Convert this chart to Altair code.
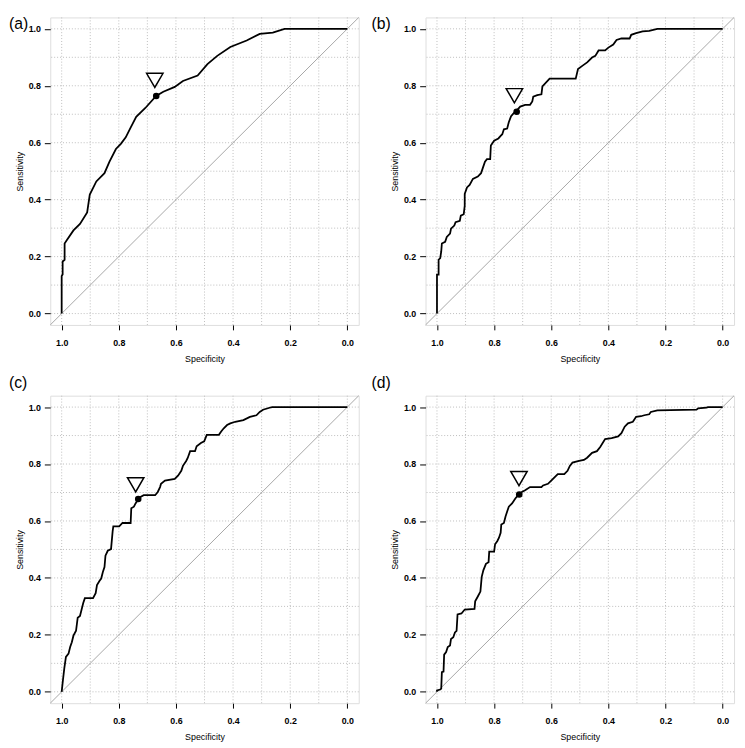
import altair as alt
import pandas as pd

# ---------------- data ----------------
spec_a = [1.0, 1.0, 0.9966, 0.9966, 0.9897, 0.9897, 0.9817, 0.9588, 0.9359, 0.9108, 0.9016,
          0.8787, 0.8501, 0.833, 0.8101, 0.7929, 0.7757, 0.7586, 0.7391, 0.7071, 0.6693,
          0.6442, 0.6041, 0.5755, 0.524, 0.4897, 0.4554, 0.4096, 0.3524, 0.3066, 0.2609,
          0.2197, 0.0]
sens_a = [0.0, 0.132, 0.137, 0.183, 0.189, 0.246, 0.258, 0.292, 0.315, 0.355, 0.418,
          0.464, 0.493, 0.533, 0.578, 0.596, 0.619, 0.653, 0.691, 0.722, 0.764,
          0.779, 0.796, 0.817, 0.836, 0.876, 0.905, 0.936, 0.959, 0.982, 0.987,
          1.0, 1.0]

spec_b = [1.0, 1.0, 0.9943, 0.9943, 0.9886, 0.9851, 0.9829, 0.9714, 0.9657, 0.9543, 0.9509,
          0.9394, 0.9349, 0.92, 0.9166, 0.9063, 0.9029, 0.9029, 0.8949, 0.8857, 0.8743,
          0.8571, 0.8457, 0.84, 0.832, 0.8251, 0.8137, 0.8114, 0.8, 0.7851, 0.7771, 0.7714,
          0.7657, 0.7543, 0.7486, 0.7406, 0.7314, 0.7234, 0.7086, 0.6914, 0.6743, 0.6663,
          0.6629, 0.6491, 0.6343, 0.6309, 0.6057, 0.5143, 0.5063, 0.4914, 0.4743, 0.4571,
          0.4457, 0.4343, 0.4114, 0.4, 0.3829, 0.3714, 0.3543, 0.3257, 0.32, 0.3029, 0.28,
          0.2571, 0.2286, 0.0]
sens_b = [0.0, 0.137, 0.137, 0.189, 0.195, 0.218, 0.246, 0.252, 0.269, 0.281, 0.298,
          0.309, 0.321, 0.326, 0.344, 0.349, 0.378, 0.42, 0.443, 0.452, 0.473,
          0.481, 0.493, 0.51, 0.533, 0.542, 0.542, 0.59, 0.607, 0.615, 0.624, 0.63,
          0.647, 0.65, 0.672, 0.693, 0.704, 0.71, 0.727, 0.733, 0.733, 0.745,
          0.762, 0.767, 0.77, 0.798, 0.825, 0.825, 0.859, 0.87, 0.882, 0.899,
          0.905, 0.924, 0.924, 0.934, 0.945, 0.961, 0.966, 0.966, 0.979, 0.985, 0.991,
          0.993, 1.0, 1.0]

spec_c = [1.0, 0.9954, 0.9908, 0.9851, 0.976, 0.9703, 0.9645, 0.9588, 0.9497, 0.9439, 0.9359,
          0.9302, 0.9245, 0.9188, 0.8902, 0.881, 0.8764, 0.8673, 0.8616, 0.8558, 0.8501,
          0.8467, 0.8387, 0.8272, 0.8215, 0.8192, 0.7986, 0.7872, 0.7586, 0.7563, 0.7471,
          0.7414, 0.7323, 0.7243, 0.7128, 0.6728, 0.6636, 0.6556, 0.6522, 0.6384, 0.6041,
          0.5927, 0.5812, 0.5755, 0.5641, 0.5584, 0.5503, 0.5332, 0.5275, 0.5126, 0.5011,
          0.492, 0.4497, 0.4416, 0.4325, 0.421, 0.4096, 0.3924, 0.3638, 0.341, 0.3181,
          0.3066, 0.2952, 0.2723, 0.2632, 0.0]
sens_c = [0.0, 0.0424, 0.0826, 0.1227, 0.1342, 0.1571, 0.1743, 0.1972, 0.2144, 0.2603, 0.2661,
          0.289, 0.3119, 0.3291, 0.3291, 0.3463, 0.375, 0.3899, 0.3979, 0.4209, 0.4381,
          0.4782, 0.4954, 0.5011, 0.5642, 0.5814, 0.5814, 0.5929, 0.5929, 0.6445, 0.6502,
          0.6617, 0.6755, 0.6846, 0.6904, 0.6904, 0.7018, 0.719, 0.7305, 0.742, 0.7477,
          0.7592, 0.7764, 0.7936, 0.8108, 0.8222, 0.8452, 0.8452, 0.8624, 0.8739, 0.8796,
          0.9025, 0.9025, 0.914, 0.9255, 0.9369, 0.9427, 0.9484, 0.9541, 0.9656, 0.9713,
          0.9828, 0.9908, 0.9977, 1.0, 1.0]

spec_d = [1.0, 1.0, 0.9886, 0.9851, 0.9829, 0.9771, 0.9749, 0.968, 0.9623, 0.9543, 0.9509,
          0.9429, 0.9371, 0.9314, 0.928, 0.9143, 0.9029, 0.8686, 0.8663, 0.8571, 0.848,
          0.8434, 0.8377, 0.8286, 0.8194, 0.8171, 0.8, 0.7966, 0.7886, 0.7829, 0.7771,
          0.7749, 0.7657, 0.76, 0.7543, 0.7486, 0.7371, 0.7257, 0.7143, 0.7029, 0.6914,
          0.6743, 0.6343, 0.6286, 0.6114, 0.6, 0.5886, 0.5771, 0.5543, 0.5429, 0.5349,
          0.5257, 0.5029, 0.4857, 0.4743, 0.4571, 0.44, 0.4286, 0.4114, 0.3886, 0.3657,
          0.3543, 0.3429, 0.3314, 0.3143, 0.3029, 0.2857, 0.2743, 0.2571, 0.2514, 0.2286,
          0.0914, 0.0857, 0.0571, 0.0514, 0.0]
sens_d = [0.0, 0.0046, 0.008, 0.0115, 0.0688, 0.0711, 0.1307, 0.1399, 0.1571, 0.1628, 0.1858,
          0.1915, 0.2087, 0.2144, 0.2718, 0.2752, 0.289, 0.2913, 0.3177, 0.3349, 0.3521,
          0.4037, 0.4266, 0.4495, 0.4553, 0.492, 0.492, 0.5183, 0.5298, 0.5413, 0.5585,
          0.5872, 0.5929, 0.6158, 0.633, 0.6502, 0.6617, 0.6789, 0.6927, 0.7018, 0.7076,
          0.719, 0.719, 0.7248, 0.7305, 0.742, 0.7534, 0.7649, 0.7649, 0.7764, 0.7936,
          0.805, 0.8108, 0.8142, 0.8222, 0.8394, 0.8452, 0.8601, 0.8876, 0.8911, 0.8968,
          0.9083, 0.9312, 0.9427, 0.9484, 0.9656, 0.9679, 0.9713, 0.9748, 0.9828, 0.9885,
          0.9908, 0.9954, 0.9977, 1.0, 1.0]

# best-threshold points (specificity, sensitivity) and marker triangles above them
best_spec = [0.669, 0.721, 0.732, 0.712]
best_sens = [0.764, 0.709, 0.677, 0.693]
tri_spec = [0.674, 0.729, 0.741, 0.713]
tri_sens = [0.819, 0.765, 0.727, 0.749]

panel_labels = ["(a)", "(b)", "(c)", "(d)"]
tick_values = [0.0, 0.2, 0.4, 0.6, 0.8, 1.0]
grid_values = [0.0, 0.1, 0.2, 0.3, 0.4, 0.5, 0.6, 0.7, 0.8, 0.9, 1.0]
diag_x = [1.04, -0.04]

FONT = "Liberation Sans"
W, H = 314, 313

xscale = alt.Scale(domain=[1.04, -0.04], nice=False, zero=False)
yscale = alt.Scale(domain=[-0.04, 1.04], nice=False, zero=False)
xaxis = alt.Axis(values=tick_values, format=".1f", title="Specificity", grid=False, domain=False,
                 tickSize=5, tickColor="black", tickWidth=1, labelPadding=9, labelFontSize=9,
                 labelFontWeight="bold", labelColor="black", labelFlush=False, labelOverlap=False,
                 titleFontSize=9, titleFontWeight="normal", titleColor="black", titlePadding=7,
                 labelFont=FONT, titleFont=FONT)
yaxis = alt.Axis(values=tick_values, format=".1f", title="Sensitivity", grid=False, domain=False,
                 tickSize=6, tickColor="black", tickWidth=1, labelPadding=4, labelFontSize=9,
                 labelFontWeight="bold", labelColor="black", labelFlush=False, labelOverlap=False,
                 titleFontSize=9, titleFontWeight="normal", titleColor="black", titlePadding=4,
                 labelFont=FONT, titleFont=FONT)


def X():
    return alt.X("x:Q", scale=xscale, axis=xaxis)


def Y():
    return alt.Y("y:Q", scale=yscale, axis=yaxis)


def panel(spec, sens, k, lab_x, lab_y):
    grid_v = alt.Chart(pd.DataFrame({"x": grid_values})).mark_rule(
        color="#bdbdbd", strokeWidth=1, strokeDash=[1, 2]).encode(x=X())
    grid_h = alt.Chart(pd.DataFrame({"y": grid_values})).mark_rule(
        color="#bdbdbd", strokeWidth=1, strokeDash=[1, 2]).encode(y=Y())
    diag = alt.Chart(pd.DataFrame({"x": diag_x, "y": [1 - v for v in diag_x]})).mark_line(
        color="#a6a6a6", strokeWidth=1).encode(x=X(), y=Y())
    curve_df = pd.DataFrame({"x": spec, "y": sens, "i": list(range(len(spec)))})
    curve = alt.Chart(curve_df).mark_line(color="black", strokeWidth=1.8).encode(
        x=X(), y=Y(), order="i:Q")
    pt = alt.Chart(pd.DataFrame({"x": [best_spec[k]], "y": [best_sens[k]]})).mark_point(
        shape="circle", filled=True, color="black", size=45, opacity=1).encode(x=X(), y=Y())
    tri = alt.Chart(pd.DataFrame({"x": [tri_spec[k]], "y": [tri_sens[k]]})).mark_point(
        shape="triangle-down", filled=False, color="black", strokeWidth=1.5, size=280,
        opacity=1).encode(x=X(), y=Y())
    lab = alt.Chart(pd.DataFrame({"t": [panel_labels[k]]})).mark_text(
        align="left", baseline="top", fontSize=16, font=FONT, color="black").encode(
        text="t:N", x=alt.value(lab_x), y=alt.value(lab_y))
    return alt.layer(grid_v, grid_h, diag, curve, pt, tri, lab).properties(width=W, height=H)


pa = panel(spec_a, sens_a, 0, -42, -1)
pb = panel(spec_b, sens_b, 1, -55, -1)
pc = panel(spec_c, sens_c, 2, -42, -21)
pd_ = panel(spec_d, sens_d, 3, -55, -21)

row1 = alt.hconcat(pa, pb, spacing=9)
row2 = alt.hconcat(pc, pd_, spacing=9)
chart = alt.vconcat(row1, row2, spacing=10).properties(
    padding={"left": 0, "top": 0, "right": 0, "bottom": 0}
).configure_view(stroke="black", strokeWidth=1).configure(background="white")

chart.save("out.html", embed_options={"renderer": "svg", "actions": False})
